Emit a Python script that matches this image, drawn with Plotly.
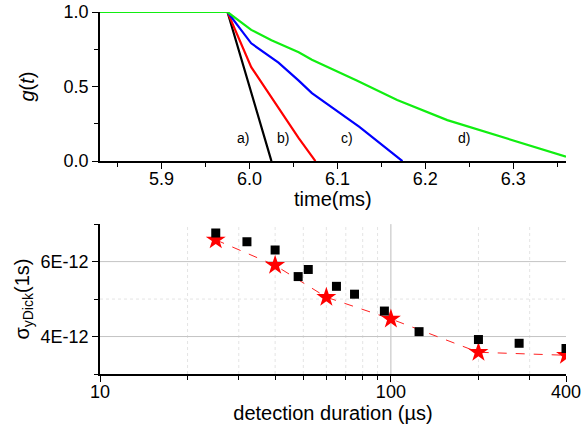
import math
import plotly.graph_objects as go

# ---- top panel data: g(t) vs time (ms) ----
t_a = [5.83, 5.975, 6.025]
g_a = [1.0, 1.0, 0.0]
t_b = [5.83, 5.975, 6.002, 6.025, 6.056, 6.075]
g_b = [1.0, 1.0, 0.63, 0.43, 0.154, 0.0]
t_c = [5.83, 5.975, 6.002, 6.033, 6.056, 6.071, 6.125, 6.174]
g_c = [1.0, 1.0, 0.79, 0.66, 0.54, 0.456, 0.23, 0.0]
t_d = [5.83, 5.975, 6.002, 6.025, 6.056, 6.071, 6.122, 6.168, 6.225, 6.3, 6.36]
g_d = [1.0, 1.0, 0.88, 0.81, 0.73, 0.68, 0.54, 0.41, 0.275, 0.14, 0.03]
curve_labels = ["a)", "b)", "c)", "d)"]
label_t = [5.993, 6.038, 6.111, 6.244]
label_g = [0.155, 0.155, 0.155, 0.155]
top_xticks = [5.9, 6.0, 6.1, 6.2, 6.3]
top_xminor = [5.85, 5.95, 6.05, 6.15, 6.25, 6.35]

# ---- bottom panel data: sigma vs detection duration (us) ----
sq_x = [25, 32, 40, 48, 52, 65, 75, 95, 125, 200, 276, 400]
sq_y = [6.76e-12, 6.53e-12, 6.31e-12, 5.6e-12, 5.79e-12, 5.34e-12, 5.13e-12,
        4.68e-12, 4.13e-12, 3.92e-12, 3.82e-12, 3.68e-12]
st_x = [25, 40, 60, 100, 200, 400]
st_y = [6.58e-12, 5.9e-12, 5.05e-12, 4.47e-12, 3.58e-12, 3.5e-12]
bot_xticks = [10, 100, 400]
bot_xminor = [20, 30, 40, 50, 60, 70, 80, 90, 200, 300]
bot_yticks = [4e-12, 6e-12]
bot_yticktext = ["4E-12", "6E-12"]
bot_yminor = [3e-12, 5e-12, 7e-12]

FONT = "Liberation Sans, Arial, sans-serif"
fig = go.Figure()

for t, g, c in [(t_a, g_a, "black"), (t_b, g_b, "#ff0000"),
                (t_c, g_c, "#0000ff"), (t_d, g_d, "#11ee11")]:
    fig.add_trace(go.Scatter(x=t, y=g, mode="lines", line=dict(color=c, width=2.2),
                             xaxis="x", yaxis="y", showlegend=False, cliponaxis=False))

for lab, x, y in zip(curve_labels, label_t, label_g):
    fig.add_annotation(x=x, y=y, xref="x", yref="y", text=lab, showarrow=False,
                       font=dict(family=FONT, size=14, color="black"))

fig.add_trace(go.Scatter(x=st_x, y=st_y, mode="lines+markers",
                         line=dict(color="#ff2020", width=1, dash="dash"),
                         marker=dict(symbol="star", size=15, color="#ff0000"),
                         xaxis="x2", yaxis="y2", showlegend=False))
fig.add_trace(go.Scatter(x=sq_x, y=sq_y, mode="markers",
                         marker=dict(symbol="square", size=9, color="black"),
                         xaxis="x2", yaxis="y2", showlegend=False))

# grid lines for bottom panel
shapes = []
for v in bot_xminor:
    shapes.append(dict(type="line", xref="x2", yref="y2 domain", x0=v, x1=v, y0=0, y1=1,
                       line=dict(color="#e4e4e4", width=1, dash="dot"), layer="below"))
shapes.append(dict(type="line", xref="x2", yref="y2 domain", x0=100, x1=100, y0=0, y1=1,
                   line=dict(color="#bdbdbd", width=1), layer="below"))
shapes.append(dict(type="line", xref="x2 domain", yref="y2", x0=0, x1=1, y0=5e-12, y1=5e-12,
                   line=dict(color="#e4e4e4", width=1, dash="dot"), layer="below"))
for v in bot_yticks:
    shapes.append(dict(type="line", xref="x2 domain", yref="y2", x0=0, x1=1, y0=v, y1=v,
                       line=dict(color="#c4c4c4", width=1), layer="below"))

tickfont = dict(family=FONT, size=18, color="black")
titlefont = dict(family=FONT, size=20, color="black")
common = dict(showgrid=False, zeroline=False, showline=True, linecolor="black", linewidth=1.5,
              ticks="outside", ticklen=6, tickcolor="black", tickwidth=1.2,
              tickfont=tickfont, automargin=False, ticklabeloverflow="allow")

# x title of the top panel, placed as an annotation for exact position
fig.add_annotation(text="time(ms)", xref="x domain", yref="y domain", x=0.5, y=-0.255,
                   xanchor="center", yanchor="middle", showarrow=False, font=titlefont)

fig.update_layout(
    width=581, height=436,
    margin=dict(l=100, r=15, t=12, b=62, autoexpand=False),
    paper_bgcolor="white", plot_bgcolor="white",
    shapes=shapes,
    xaxis=dict(domain=[0, 1], anchor="y", range=[5.83, 6.36], tickvals=top_xticks,
               ticktext=[f"{v:.1f}" for v in top_xticks], ticklabelstandoff=-5,
               minor=dict(tickvals=top_xminor, ticks="outside", ticklen=4, tickcolor="black", showgrid=False),
               **common),
    yaxis=dict(domain=[0.588, 1], anchor="x", range=[0, 1], tickvals=[0, 0.5, 1.0],
               ticktext=["0.0", "0.5", "1.0"],
               minor=dict(tickvals=[0.25, 0.75], ticks="outside", ticklen=4, tickcolor="black", showgrid=False),
               title=dict(text="<i>g</i>(<i>t</i>)", font=titlefont, standoff=24), **common),
    xaxis2=dict(domain=[0, 1], anchor="y2", type="log", range=[1, math.log10(400)],
                tickvals=bot_xticks, ticktext=[str(v) for v in bot_xticks], ticklabelstandoff=-5,
                minor=dict(tickvals=bot_xminor, ticks="outside", ticklen=4, tickcolor="black", showgrid=False),
                title=dict(text="detection duration (µs)", font=titlefont, standoff=4), **common),
    yaxis2=dict(domain=[0, 0.414], anchor="x2", range=[3e-12, 7e-12],
                tickvals=bot_yticks, ticktext=bot_yticktext,
                minor=dict(tickvals=bot_yminor, ticks="outside", ticklen=4, tickcolor="black", showgrid=False),
                title=dict(text="σ<sub>yDick</sub>(1s)", font=titlefont, standoff=6), **common),
)

fig.write_html("out.html", config={"displayModeBar": False},
               post_script="document.body.style.margin='0';")
